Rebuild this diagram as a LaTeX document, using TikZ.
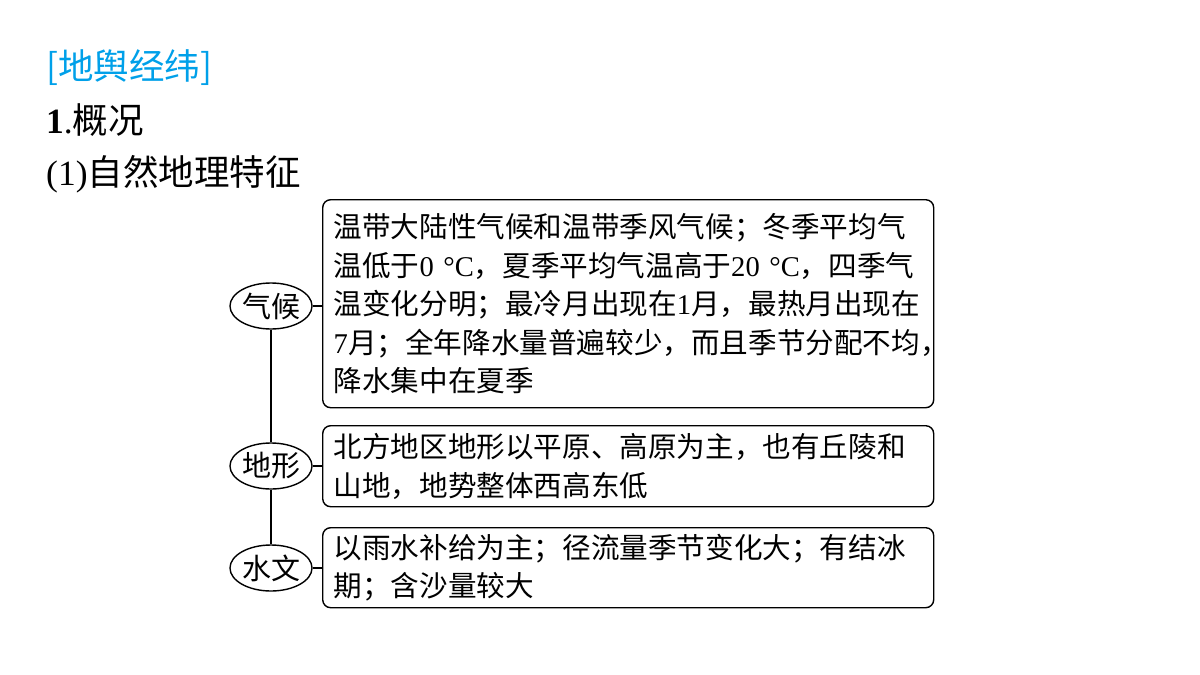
\documentclass[tikz,border=0pt]{standalone}
\usepackage{fontspec}
\setmainfont{Noto Sans CJK SC}
\newfontfamily\tnr{Liberation Serif}
\usetikzlibrary{shapes.geometric}
\definecolor{headcyan}{RGB}{0,160,233}
\begin{document}
\begin{tikzpicture}[x=1pt,y=-1pt,
  every node/.style={inner sep=0pt},
  txt/.style={font=\fontsize{35.5}{40}\selectfont, anchor=west},
  topic/.style={draw, ellipse, line width=1.4pt, minimum width=78pt, minimum height=46pt, font=\fontsize{29}{34}\selectfont},
  infobox/.style={draw, line width=1.4pt, rounded corners=8pt, anchor=north west, minimum width=611pt, text width=589pt, align=left, inner xsep=11pt, inner ysep=3pt, font=\fontsize{28.6}{38.5}\selectfont},
  link/.style={line width=1.4pt}]
\useasboundingbox (0,0) rectangle (1200,675);

\node[txt, text=headcyan] (h1) at (46,68) {[地舆经纬]};
\node[txt] (h2) at (46,120) {{\tnr\bfseries 1}{\tnr .}概况};
\node[txt] (h3) at (46,174) {{\tnr (1)}自然地理特征};

\node[infobox, minimum height=208pt] (b1) at (322,199) {温带大陆性气候和温带季风气候；冬季平均气\\
温低于{\tnr 0 °C}，夏季平均气温高于{\tnr 20 °C}，四季气\\
温变化分明；最冷月出现在{\tnr 1}月，最热月出现在\\
{\tnr 7}月；全年降水量普遍较少，而且季节分配不均，\\
降水集中在夏季};
\node[infobox, minimum height=81pt] (b2) at (322,425) {北方地区地形以平原、高原为主，也有丘陵和\\
山地，地势整体西高东低};
\node[infobox, minimum height=80pt] (b3) at (322,527) {以雨水补给为主；径流量季节变化大；有结冰\\
期；含沙量较大};

\node[topic] (q) at (271,306) {气候};
\node[topic] (d) at (271,466) {地形};
\node[topic] (s) at (271,568) {水文};

\draw[link] (q.south) -- (d.north);
\draw[link] (d.south) -- (s.north);
\draw[link] (q.east) -- (q.east -| b1.west);
\draw[link] (d.east) -- (d.east -| b2.west);
\draw[link] (s.east) -- (s.east -| b3.west);
\end{tikzpicture}
\end{document}
